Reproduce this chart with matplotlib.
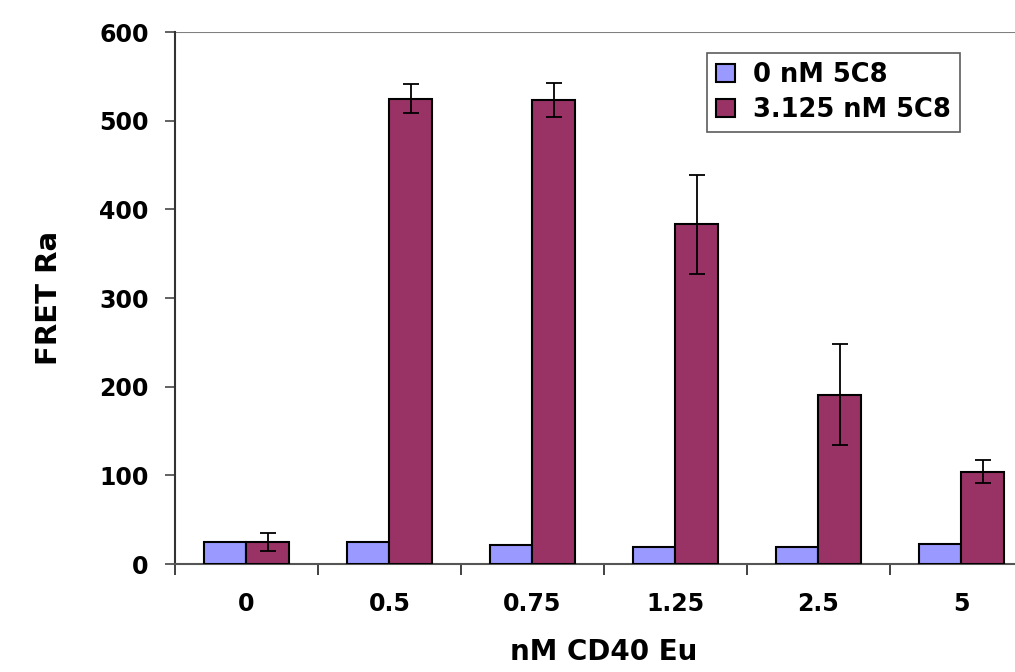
import numpy as np
import matplotlib.pyplot as plt

# Datos
categorias = ["0", "0.5", "0.75", "1.25", "2.5", "5"]
sin_5c8 = [25, 25, 21, 19.5, 19.5, 22]
con_5c8 = [25, 525, 523, 383, 191, 104]
err_con_5c8 = [10, 16, 19, 56, 57, 13]

plt.rcParams['font.family'] = ['DejaVu Sans']
plt.rcParams['font.weight'] = 'bold'

fig = plt.figure(figsize=(10.15, 6.72), dpi=100)
ax = fig.add_axes([175 / 1015, 108 / 672, 858 / 1015, 532 / 672])

x = np.arange(len(categorias))
w = 0.3
ax.bar(x - w / 2, sin_5c8, w, color="#9999FF", edgecolor="black", linewidth=1.5,
       label="0 nM 5C8", zorder=3)
ax.bar(x + w / 2, con_5c8, w, color="#993366", edgecolor="black", linewidth=1.5,
       label="3.125 nM 5C8", zorder=3)
ax.errorbar(x + w / 2, con_5c8, yerr=err_con_5c8, fmt="none", ecolor="black",
            elinewidth=1.3, capsize=5.5, capthick=1.3, zorder=4)

ax.set_xlim(-0.5, 5.5)
ax.set_ylim(0, 600)
ax.set_yticks(np.arange(0, 601, 100))
ax.set_xticks(x)
ax.set_xticklabels(categorias)
ax.set_xticks(np.arange(-0.5, 6, 1), minor=True)
ax.tick_params(axis="x", which="major", length=0, pad=20, labelsize=17)
ax.tick_params(axis="x", which="minor", length=8, width=1.3, color="#333333")
ax.tick_params(axis="y", length=7, width=1.3, color="#555555", labelsize=17, pad=12)
for lab in ax.get_xticklabels() + ax.get_yticklabels():
    lab.set_fontweight("bold")

ax.axhline(600, color="#808080", linewidth=1.5, zorder=1)
for s in ["top", "right"]:
    ax.spines[s].set_visible(False)
ax.spines["left"].set_color("#333333")
ax.spines["left"].set_linewidth(1.5)
ax.spines["bottom"].set_color("#555555")
ax.spines["bottom"].set_linewidth(1.5)

ax.set_ylabel("FRET Ra", fontsize=21, fontweight="bold", labelpad=26)
ax.set_xlabel("nM CD40 Eu", fontsize=20, fontweight="bold", labelpad=16)

leg = ax.legend(loc="upper left", bbox_to_anchor=(532 / 858, 1 - 21 / 532),
                fontsize=18.5, frameon=True, fancybox=False, handlelength=0.75,
                handleheight=0.75, handletextpad=0.7, borderpad=0.35,
                labelspacing=0.35, borderaxespad=0)
leg.get_frame().set_edgecolor("#333333")
leg.get_frame().set_linewidth(1.2)
for t in leg.get_texts():
    t.set_fontweight("bold")

plt.savefig("out.png", dpi=100)
